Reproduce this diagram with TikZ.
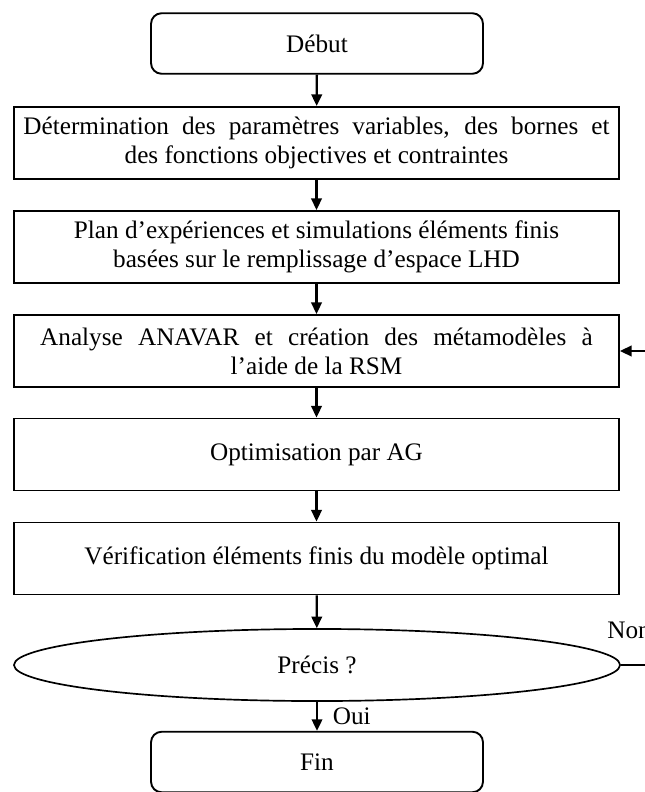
\documentclass[tikz,border=0pt]{standalone}
\usepackage{fontspec}
\setmainfont{Liberation Serif}
\usetikzlibrary{arrows.meta,shapes.geometric}

\begin{document}
\begin{tikzpicture}[x=0.476pt,y=-0.476pt,
    >={Triangle[width=5pt,length=5.5pt]},
    every node/.style={font=\fontsize{12}{13.8}\selectfont},
    endbox/.style={draw,line width=0.9pt,rounded corners=5pt,minimum width=158pt,minimum height=28.8pt,inner sep=2pt},
    stepbox/.style={draw,line width=0.9pt,minimum width=288pt,minimum height=34.3pt,inner sep=2pt,align=center},
    testbox/.style={draw,ellipse,line width=0.8pt,minimum width=288.5pt,minimum height=34.3pt,inner sep=0pt},
    flow/.style={->,line width=1.1pt}]
  \useasboundingbox (0,0) rectangle (645,792);
  \clip (0,0) rectangle (645,792);
  % etapes
  \node[endbox] (debut) at (317,43.5) {Début};
  \node[stepbox] (param) at (316.5,143) {\makebox[279pt][s]{Détermination des paramètres variables, des bornes et}\\des fonctions objectives et contraintes};
  \node[stepbox] (plan) at (316.5,247) {Plan d’expériences et simulations éléments finis\\basées sur le remplissage d’espace LHD};
  \node[stepbox] (anavar) at (316.5,351) {\makebox[263pt][s]{Analyse ANAVAR et création des métamodèles à}\\l’aide de la RSM};
  \node[stepbox] (optim) at (316.5,454.5) {Optimisation par AG};
  \node[stepbox] (verif) at (316.5,558.5) {Vérification éléments finis du modèle optimal};
  \node[testbox] (precis) at (317,665) {\raisebox{-8pt}{Précis ?}};
  \node[endbox] (fin) at (317,762) {Fin};
  % liaisons
  \draw[flow] (debut) -- (param);
  \draw[flow] (param) -- (plan);
  \draw[flow] (plan) -- (anavar);
  \draw[flow] (anavar) -- (optim);
  \draw[flow] (optim) -- (verif);
  \draw[flow] (verif) -- (precis);
  \draw[flow] (precis) -- (fin) node[midway,right=5pt,inner sep=2pt] {Oui};
  % boucle
  \coordinate (retour) at (680,665);
  \draw[flow] (precis.east) -- (retour) |- (anavar.east);
  \node[anchor=south west,inner sep=0pt] (non) at (607,639) {Non};
\end{tikzpicture}
\end{document}
